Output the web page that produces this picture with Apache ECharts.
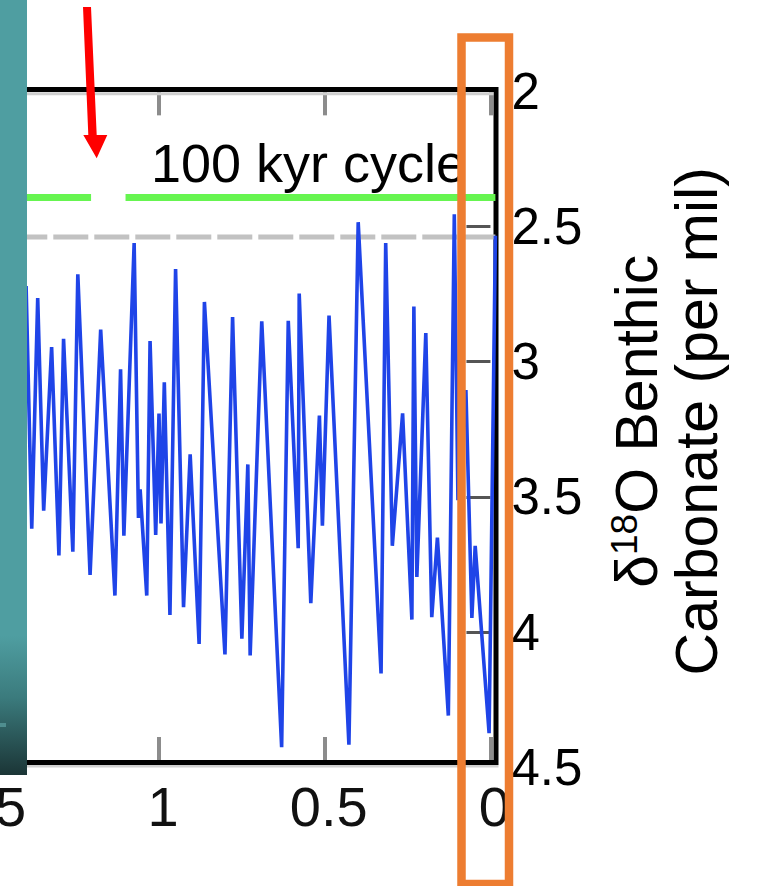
<!DOCTYPE html>
<html>
<head>
<meta charset="utf-8">
<script src="https://cdn.jsdelivr.net/npm/echarts@6/dist/echarts.min.js"></script>
<style>
html,body{margin:0;padding:0;background:#ffffff;}
#chart{width:759px;height:886px;}
</style>
</head>
<body>
<div id="chart"></div>
<script>
// ---- data (age in Myr, benthic d18O in per mil) ----
const ageMyr = [1.49, 1.465, 1.44, 1.42, 1.401,
  1.384, 1.366, 1.348, 1.324, 1.302, 1.288, 1.260, 1.245, 1.208, 1.176,
  1.133, 1.116, 1.106, 1.075, 1.062, 1.057, 1.037, 1.027, 1.010, 1.000,
  0.994, 0.984, 0.967, 0.950, 0.926, 0.906, 0.879, 0.863, 0.801, 0.778,
  0.750, 0.732, 0.725, 0.690, 0.630, 0.610, 0.580, 0.577, 0.542, 0.516,
  0.507, 0.487, 0.427, 0.399, 0.330, 0.316, 0.296, 0.265, 0.237, 0.231,
  0.222, 0.195, 0.177, 0.160, 0.127, 0.109, 0.098, 0.074, 0.056, 0.046,
  0.004, -0.015];
const d18O = [3.10, 3.62, 2.88, 3.55, 2.72,
  3.618, 2.765, 3.551, 2.946, 3.717, 2.915, 3.703, 2.677, 3.789, 2.881,
  3.865, 3.028, 3.644, 2.561, 3.578, 3.472, 3.865, 2.924, 3.641, 3.192,
  3.598, 3.076, 3.937, 2.657, 3.908, 3.343, 4.044, 2.779, 4.083, 2.835,
  4.025, 3.380, 4.087, 2.851, 4.426, 2.849, 3.690, 2.748, 3.893, 3.199,
  3.607, 2.829, 4.417, 2.484, 4.153, 2.561, 3.681, 3.191, 3.954, 2.796,
  3.796, 2.894, 3.945, 3.651, 4.309, 2.455, 3.512, 3.105, 3.948, 3.681,
  4.374, 2.534];
const xTickValues = [0, 0.5, 1, 1.5];
const yTickValues = [2, 2.5, 3, 3.5, 4, 4.5];
const yInnerTicks = [2.5, 3, 3.5, 4];
const cycleLevel = 2.393;
const cycleSegments = [[1.5, 1.205], [1.101, -0.015]];
const refLevel = 2.539;
const refRange = [1.5, -0.015];
const annotationText = '100 kyr cycle';
const yTitleParts = ['δ', '18', 'O Benthic', 'Carbonate (per mil)'];

// ---- build ----
const FONT = 'Liberation Sans, Arial, sans-serif';

const blueData = ageMyr.map((a, i) => [a, d18O[i]]);
const greenData = [];
cycleSegments.forEach((seg, i) => {
  if (i > 0) greenData.push([(cycleSegments[i - 1][1] + seg[0]) / 2, '-']);
  greenData.push([seg[0], cycleLevel], [seg[1], cycleLevel]);
});
const refData = refRange.map(x => [x, refLevel]);

const chart = echarts.init(document.getElementById('chart'), null, {renderer: 'svg'});
const xCommon = {
  type: 'value', min: -0.015, max: 1.5, inverse: true,
  axisLine: {show: false}, splitLine: {show: false}
};
chart.setOption({
  animation: false,
  backgroundColor: '#ffffff',
  grid: {left: -6.7, width: 502.1, top: 91.35, height: 675.85, containLabel: false, outerBoundsMode: 'none'},
  xAxis: [
    Object.assign({}, xCommon, {
      position: 'bottom', offset: -4.7,
      axisTick: {show: true, inside: true, length: 25.5, customValues: xTickValues,
        lineStyle: {color: '#8c8c8c', width: 4}},
      axisLabel: {
        show: true, customValues: xTickValues, fontFamily: FONT, fontSize: 56,
        color: '#111', margin: 16, padding: [0, 0, 0, 8],
        formatter: v => (v === 1.5 ? '{edge|' + v + '}' : String(v)),
        rich: {edge: {fontFamily: FONT, fontSize: 56, color: '#111', padding: [0, 20, 0, 0]}}
      }
    }),
    Object.assign({}, xCommon, {
      position: 'top',
      axisTick: {show: true, inside: true, length: 24, customValues: xTickValues,
        lineStyle: {color: '#8c8c8c', width: 4}},
      axisLabel: {show: false}
    })
  ],
  yAxis: {
    type: 'value', min: 2, max: 4.5, inverse: true, position: 'right',
    axisLine: {show: false}, splitLine: {show: false},
    axisTick: {show: true, inside: true, length: 24, customValues: yInnerTicks,
      lineStyle: {color: '#555', width: 3}},
    axisLabel: {show: true, customValues: yTickValues, fontFamily: FONT, fontSize: 51,
      color: '#000', margin: 16, padding: [14, 0, 0, 0]},
    name: '{m|' + yTitleParts[0] + '}{s|' + yTitleParts[1] + '}{m|' + yTitleParts[2] + '}\n{m|' + yTitleParts[3] + '}',
    nameLocation: 'middle', nameGap: 111, nameRotate: 90,
    nameTextStyle: {
      fontFamily: FONT, color: '#000', align: 'center', padding: [0, 0, 0, 16],
      rich: {
        m: {fontFamily: FONT, fontSize: 59, lineHeight: 60, verticalAlign: 'bottom', color: '#000'},
        s: {fontFamily: FONT, fontSize: 37, lineHeight: 37, verticalAlign: 'top', padding: [0, 0, 40, 0], color: '#000'}
      }
    }
  },
  series: [
    {type: 'line', data: refData, symbol: 'none', silent: true, z: 2,
      lineStyle: {color: '#c2c2c2', width: 5, type: [35, 6], dashOffset: 22}},
    {type: 'line', data: greenData, symbol: 'none', silent: true, z: 3, connectNulls: false,
      lineStyle: {color: '#66f550', width: 7, cap: 'butt'}},
    {type: 'line', data: blueData, symbol: 'none', silent: true, z: 4, clip: false,
      lineStyle: {color: '#1f44e8', width: 3.6, join: 'bevel'}}
  ],
  graphic: [
    {type: 'polyline', z: 1, shape: {points: [[0, 89.5], [496, 89.5], [496, 762.5], [0, 762.5]]},
      style: {fill: 'none', stroke: '#000', lineWidth: 5, lineJoin: 'miter'}},
    {type: 'line', z: 1, shape: {x1: 0, y1: 93.8, x2: 493.5, y2: 93.8},
      style: {stroke: '#cfcfcf', lineWidth: 3}},
    {type: 'line', z: 1, shape: {x1: 0, y1: 766.3, x2: 498.5, y2: 766.3},
      style: {stroke: '#d0d0d0', lineWidth: 2.5}},
    {type: 'text', z: 50, style: {text: annotationText, x: 151, y: 163, fontFamily: FONT, fontSize: 54,
      fill: '#000', align: 'left', verticalAlign: 'middle'}},
    {type: 'rect', z: 100, shape: {x: 0, y: 0, width: 27, height: 775},
      style: {fill: new echarts.graphic.LinearGradient(0, 0, 0, 1, [
        {offset: 0, color: '#4f9ea1'}, {offset: 0.82, color: '#4f9ea1'},
        {offset: 0.9, color: '#3b7b7d'}, {offset: 1, color: '#1b3536'}])}},
    {type: 'rect', z: 101, shape: {x: 0, y: 723, width: 6, height: 4},
      style: {fill: '#4f8e8f'}},
    {type: 'polygon', z: 100, shape: {points: [[83, 7], [91, 7], [96.7, 135], [107.3, 135], [96.7, 158.3], [83.3, 135], [88.3, 135]]},
      style: {fill: '#ff0000'}},
    {type: 'rect', z: 100, shape: {x: 461.5, y: 37.5, width: 47.5, height: 846.5},
      style: {fill: 'none', stroke: '#ED7D31', lineWidth: 8.5}}
  ]
});
</script>
</body>
</html>
